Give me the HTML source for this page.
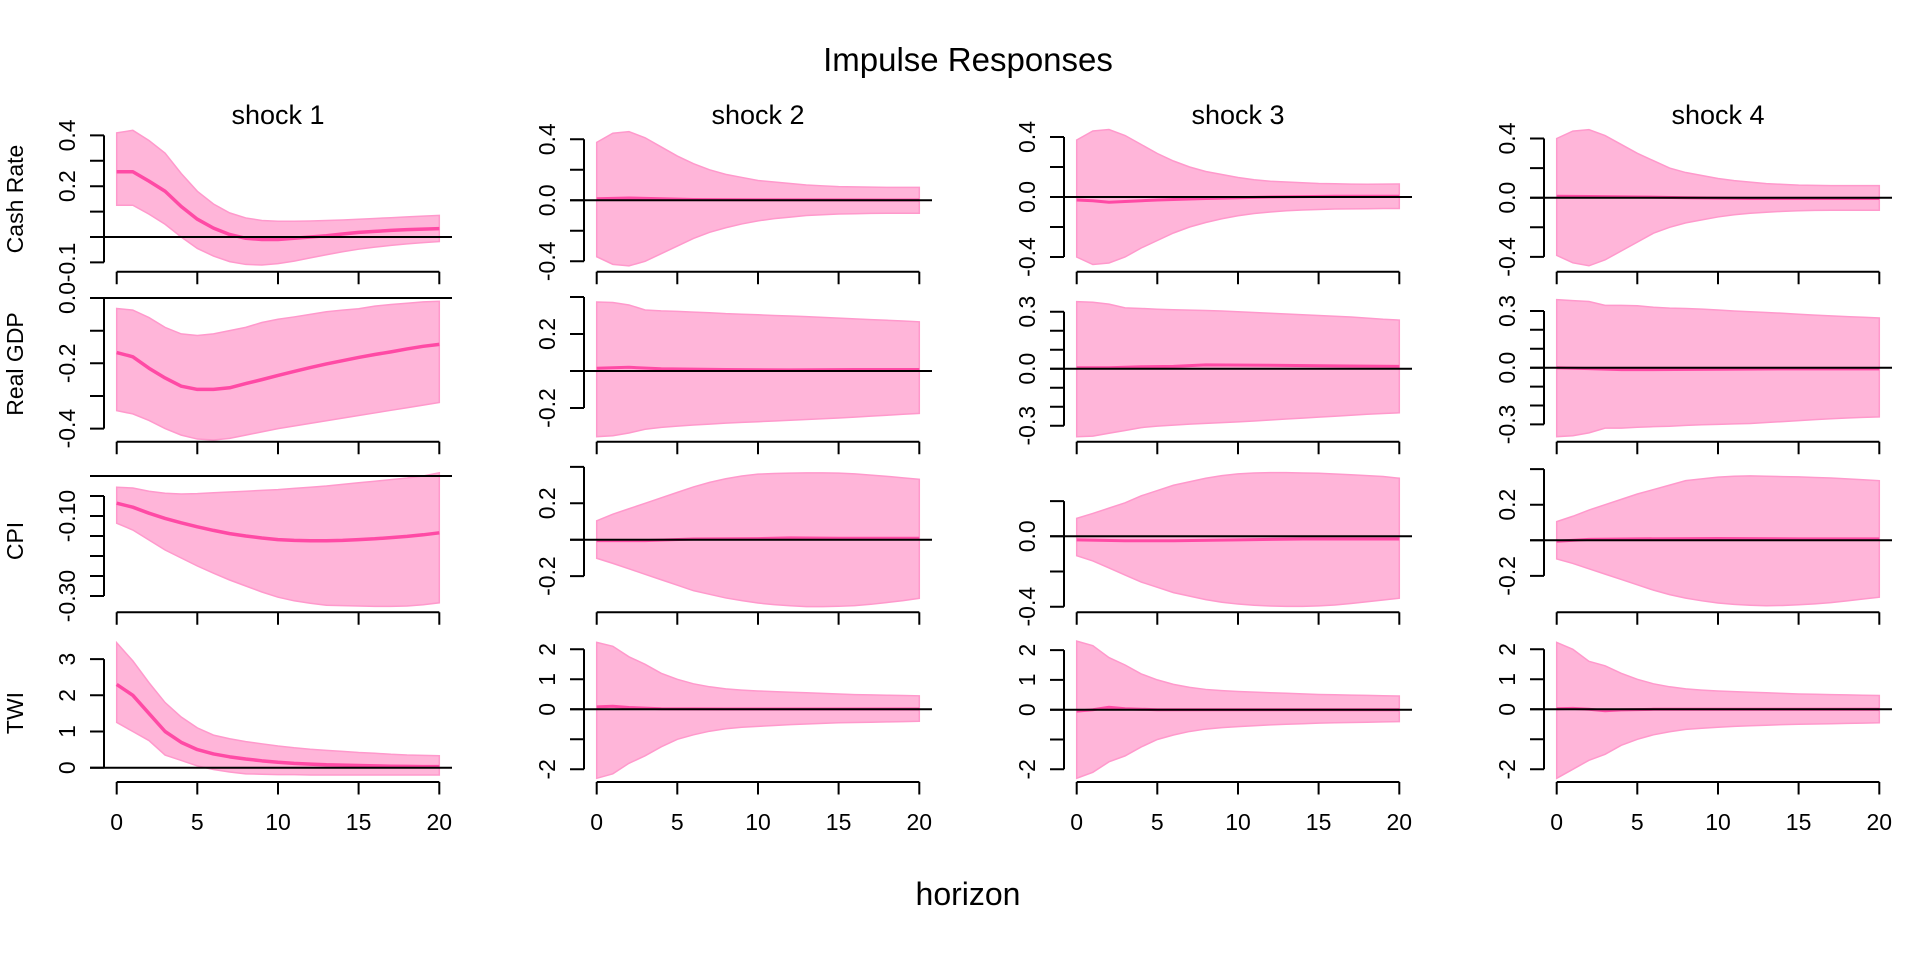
<!DOCTYPE html>
<html><head><meta charset="utf-8"><style>
html,body{margin:0;padding:0;background:#fff;}
svg{display:block;font-family:"Liberation Sans",Arial,sans-serif;}
.band{fill:#ffb5d9;stroke:#ff99cc;stroke-width:1.5;vector-effect:non-scaling-stroke;}
.med{fill:none;stroke:#ff4aa5;stroke-width:3.5;vector-effect:non-scaling-stroke;stroke-linejoin:round;}
.medt{fill:none;stroke:#ff4aa5;stroke-width:3;vector-effect:non-scaling-stroke;}
.ax{stroke:#000;stroke-width:2;fill:none;}
.zl{stroke:#000;stroke-width:2;}
.tl{font-size:23px;text-anchor:middle;dominant-baseline:central;}
.xl{font-size:23px;text-anchor:middle;}
.st{font-size:27px;text-anchor:middle;}
.vl{font-size:23px;text-anchor:middle;dominant-baseline:central;}
</style></head><body>
<svg width="1920" height="960" viewBox="0 0 1920 960" xmlns="http://www.w3.org/2000/svg">
<rect width="1920" height="960" fill="#fff"/>
<text x="968" y="71" font-size="33" text-anchor="middle">Impulse Responses</text>
<text x="968" y="905" font-size="32" text-anchor="middle">horizon</text>

<text class="st" x="278" y="124">shock 1</text>
<text class="st" x="758" y="124">shock 2</text>
<text class="st" x="1238" y="124">shock 3</text>
<text class="st" x="1718" y="124">shock 4</text>

<text class="vl" transform="translate(15,199) rotate(-90)">Cash Rate</text>
<text class="vl" transform="translate(15,364) rotate(-90)">Real GDP</text>
<text class="vl" transform="translate(15,541) rotate(-90)">CPI</text>
<text class="vl" transform="translate(15,713) rotate(-90)">TWI</text>

<g transform="translate(116.7,237) scale(16.13,-254)">
<polygon class="band" points="0,0.41 1,0.42 2,0.38 3,0.33 4,0.25 5,0.18 6,0.13 7,0.095 8,0.075 9,0.065 10,0.062 11,0.062 12,0.063 13,0.065 14,0.067 15,0.07 16,0.073 17,0.076 18,0.079 19,0.082 20,0.085 20,-0.018 19,-0.022 18,-0.027 17,-0.033 16,-0.04 15,-0.048 14,-0.058 13,-0.07 12,-0.082 11,-0.095 10,-0.105 9,-0.11 8,-0.108 7,-0.097 6,-0.075 5,-0.045 4,0 3,0.05 2,0.09 1,0.125 0,0.125"/>
<polyline class="med" points="0,0.257 1,0.257 2,0.22 3,0.18 4,0.12 5,0.07 6,0.035 7,0.01 8,-0.005 9,-0.01 10,-0.01 11,-0.005 12,0 13,0.005 14,0.012 15,0.018 16,0.022 17,0.026 18,0.029 19,0.031 20,0.033"/>
</g>
<g transform="translate(116.7,298) scale(16.13,-326.5)">
<polygon class="band" points="0,-0.032 1,-0.037 2,-0.06 3,-0.09 4,-0.11 5,-0.115 6,-0.11 7,-0.1 8,-0.09 9,-0.075 10,-0.065 11,-0.058 12,-0.05 13,-0.042 14,-0.037 15,-0.033 16,-0.025 17,-0.02 18,-0.016 19,-0.012 20,-0.01 20,-0.32 19,-0.328 18,-0.336 17,-0.344 16,-0.352 15,-0.36 14,-0.368 13,-0.376 12,-0.384 11,-0.392 10,-0.4 9,-0.41 8,-0.42 7,-0.43 6,-0.435 5,-0.432 4,-0.42 3,-0.4 2,-0.375 1,-0.355 0,-0.345"/>
<polyline class="med" points="0,-0.167 1,-0.18 2,-0.215 3,-0.245 4,-0.27 5,-0.28 6,-0.28 7,-0.275 8,-0.262 9,-0.25 10,-0.237 11,-0.225 12,-0.213 13,-0.202 14,-0.192 15,-0.182 16,-0.173 17,-0.165 18,-0.156 19,-0.148 20,-0.142"/>
</g>
<g transform="translate(116.7,476) scale(16.13,-400)">
<polygon class="band" points="0,-0.028 1,-0.03 2,-0.038 3,-0.043 4,-0.045 5,-0.044 6,-0.042 7,-0.04 8,-0.038 9,-0.036 10,-0.034 11,-0.031 12,-0.028 13,-0.025 14,-0.021 15,-0.017 16,-0.013 17,-0.009 18,-0.005 19,0 20,0.008 20,-0.317 19,-0.322 18,-0.325 17,-0.326 16,-0.326 15,-0.325 14,-0.324 13,-0.323 12,-0.318 11,-0.312 10,-0.303 9,-0.29 8,-0.275 7,-0.26 6,-0.243 5,-0.225 4,-0.205 3,-0.185 2,-0.16 1,-0.135 0,-0.118"/>
<polyline class="med" points="0,-0.068 1,-0.078 2,-0.093 3,-0.106 4,-0.117 5,-0.127 6,-0.136 7,-0.144 8,-0.15 9,-0.155 10,-0.159 11,-0.161 12,-0.162 13,-0.162 14,-0.161 15,-0.159 16,-0.157 17,-0.154 18,-0.151 19,-0.147 20,-0.142"/>
</g>
<g transform="translate(116.7,767.7) scale(16.13,-36.2)">
<polygon class="band" points="0,3.45 1,2.95 2,2.35 3,1.8 4,1.4 5,1.1 6,0.9 7,0.8 8,0.72 9,0.66 10,0.6 11,0.55 12,0.51 13,0.48 14,0.45 15,0.42 16,0.4 17,0.37 18,0.35 19,0.34 20,0.33 20,-0.2 19,-0.2 18,-0.2 17,-0.2 16,-0.2 15,-0.2 14,-0.2 13,-0.2 12,-0.2 11,-0.19 10,-0.19 9,-0.18 8,-0.17 7,-0.12 6,-0.05 5,0.05 4,0.2 3,0.35 2,0.75 1,1.0 0,1.25"/>
<polyline class="med" points="0,2.3 1,2.0 2,1.5 3,1.0 4,0.7 5,0.5 6,0.38 7,0.3 8,0.24 9,0.19 10,0.15 11,0.12 12,0.1 13,0.08 14,0.07 15,0.06 16,0.05 17,0.04 18,0.035 19,0.03 20,0.03"/>
</g>

<g transform="translate(596.7,200.3) scale(16.13,-152.5)">
<polygon class="band" points="0,0.38 1,0.44 2,0.45 3,0.41 4,0.35 5,0.29 6,0.24 7,0.2 8,0.17 9,0.15 10,0.13 11,0.12 12,0.11 13,0.1 14,0.095 15,0.09 16,0.088 17,0.086 18,0.085 19,0.085 20,0.085 20,-0.085 19,-0.085 18,-0.085 17,-0.086 16,-0.088 15,-0.09 14,-0.095 13,-0.1 12,-0.11 11,-0.12 10,-0.135 9,-0.155 8,-0.18 7,-0.21 6,-0.25 5,-0.3 4,-0.35 3,-0.4 2,-0.43 1,-0.42 0,-0.37"/>
<polyline class="medt" points="0,0.01 2,0.015 4,0.01 6,0.005 10,0.004 15,0.003 20,0.002"/>
</g>
<g transform="translate(596.7,371) scale(16.13,-185)">
<polygon class="band" points="0,0.373 1,0.37 2,0.357 3,0.33 4,0.325 5,0.322 6,0.318 7,0.315 8,0.31 9,0.307 10,0.304 11,0.3 12,0.297 13,0.294 14,0.29 15,0.286 16,0.282 17,0.278 18,0.274 19,0.27 20,0.266 20,-0.229 19,-0.234 18,-0.239 17,-0.244 16,-0.249 15,-0.254 14,-0.258 13,-0.262 12,-0.266 11,-0.27 10,-0.274 9,-0.278 8,-0.282 7,-0.287 6,-0.292 5,-0.298 4,-0.305 3,-0.315 2,-0.335 1,-0.35 0,-0.355"/>
<polyline class="medt" points="0,0.015 2,0.02 4,0.012 8,0.008 12,0.006 16,0.008 20,0.008"/>
</g>
<g transform="translate(596.7,539.7) scale(16.13,-182)">
<polygon class="band" points="0,0.104 1,0.14 2,0.17 3,0.2 4,0.23 5,0.26 6,0.29 7,0.315 8,0.335 9,0.35 10,0.36 11,0.364 12,0.366 13,0.367 14,0.367 15,0.366 16,0.362 17,0.355 18,0.348 19,0.34 20,0.332 20,-0.322 19,-0.335 18,-0.345 17,-0.355 16,-0.362 15,-0.366 14,-0.368 13,-0.368 12,-0.363 11,-0.357 10,-0.348 9,-0.335 8,-0.32 7,-0.3 6,-0.28 5,-0.25 4,-0.22 3,-0.19 2,-0.16 1,-0.13 0,-0.102"/>
<polyline class="medt" points="0,-0.005 3,-0.005 6,0.004 10,0.006 12,0.01 15,0.008 20,0.008"/>
</g>
<g transform="translate(596.7,709.3) scale(16.13,-30)">
<polygon class="band" points="0,2.23 1,2.1 2,1.75 3,1.5 4,1.2 5,1.0 6,0.85 7,0.75 8,0.68 9,0.64 10,0.61 11,0.59 12,0.57 13,0.55 14,0.53 15,0.51 16,0.49 17,0.48 18,0.47 19,0.46 20,0.45 20,-0.4 19,-0.41 18,-0.42 17,-0.43 16,-0.44 15,-0.45 14,-0.47 13,-0.49 12,-0.51 11,-0.54 10,-0.57 9,-0.6 8,-0.65 7,-0.73 6,-0.85 5,-1.0 4,-1.25 3,-1.55 2,-1.8 1,-2.15 0,-2.3"/>
<polyline class="medt" points="0,0.08 1,0.1 2,0.06 4,0.02 8,0.01 20,0.01"/>
</g>

<g transform="translate(1076.7,197) scale(16.13,-150)">
<polygon class="band" points="0,0.38 1,0.44 2,0.45 3,0.41 4,0.35 5,0.29 6,0.24 7,0.2 8,0.17 9,0.15 10,0.13 11,0.115 12,0.105 13,0.1 14,0.095 15,0.09 16,0.088 17,0.086 18,0.085 19,0.086 20,0.087 20,-0.077 19,-0.077 18,-0.078 17,-0.079 16,-0.08 15,-0.083 14,-0.087 13,-0.092 12,-0.1 11,-0.11 10,-0.125 9,-0.145 8,-0.17 7,-0.2 6,-0.24 5,-0.29 4,-0.34 3,-0.4 2,-0.44 1,-0.45 0,-0.4"/>
<polyline class="medt" points="0,-0.02 1,-0.025 2,-0.035 3,-0.03 5,-0.02 8,-0.01 12,0 16,0.005 20,0.005"/>
</g>
<g transform="translate(1076.7,368.7) scale(16.13,-190)">
<polygon class="band" points="0,0.353 1,0.35 2,0.34 3,0.32 4,0.317 5,0.313 6,0.31 7,0.308 8,0.306 9,0.304 10,0.3 11,0.296 12,0.292 13,0.288 14,0.284 15,0.28 16,0.276 17,0.272 18,0.266 19,0.26 20,0.256 20,-0.232 19,-0.236 18,-0.24 17,-0.245 16,-0.25 15,-0.255 14,-0.26 13,-0.265 12,-0.27 11,-0.275 10,-0.28 9,-0.284 8,-0.288 7,-0.292 6,-0.297 5,-0.302 4,-0.31 3,-0.325 2,-0.34 1,-0.355 0,-0.358"/>
<polyline class="medt" points="0,0.005 2,0.005 4,0.01 6,0.012 8,0.02 12,0.018 16,0.015 20,0.012"/>
</g>
<g transform="translate(1076.7,536.3) scale(16.13,-176)">
<polygon class="band" points="0,0.102 1,0.13 2,0.16 3,0.19 4,0.23 5,0.26 6,0.29 7,0.31 8,0.33 9,0.345 10,0.355 11,0.36 12,0.362 13,0.362 14,0.36 15,0.358 16,0.354 17,0.35 18,0.345 19,0.34 20,0.33 20,-0.352 19,-0.362 18,-0.372 17,-0.382 16,-0.39 15,-0.395 14,-0.398 13,-0.398 12,-0.396 11,-0.392 10,-0.385 9,-0.375 8,-0.36 7,-0.34 6,-0.32 5,-0.29 4,-0.26 3,-0.22 2,-0.18 1,-0.14 0,-0.11"/>
<polyline class="medt" points="0,-0.02 3,-0.025 6,-0.025 10,-0.02 14,-0.015 20,-0.015"/>
</g>
<g transform="translate(1076.7,709.7) scale(16.13,-29.8)">
<polygon class="band" points="0,2.3 1,2.15 2,1.75 3,1.5 4,1.2 5,1.0 6,0.85 7,0.75 8,0.68 9,0.64 10,0.61 11,0.59 12,0.57 13,0.55 14,0.53 15,0.51 16,0.5 17,0.49 18,0.48 19,0.47 20,0.46 20,-0.4 19,-0.41 18,-0.42 17,-0.43 16,-0.44 15,-0.45 14,-0.47 13,-0.49 12,-0.51 11,-0.54 10,-0.57 9,-0.6 8,-0.65 7,-0.73 6,-0.85 5,-1.0 4,-1.25 3,-1.55 2,-1.75 1,-2.1 0,-2.3"/>
<polyline class="medt" points="0,-0.05 1,0.0 2,0.08 3,0.03 5,0.0 20,0.0"/>
</g>

<g transform="translate(1556.7,197.7) scale(16.13,-148)">
<polygon class="band" points="0,0.4 1,0.45 2,0.46 3,0.42 4,0.36 5,0.3 6,0.25 7,0.2 8,0.17 9,0.15 10,0.13 11,0.115 12,0.105 13,0.095 14,0.09 15,0.085 16,0.083 17,0.082 18,0.082 19,0.082 20,0.082 20,-0.085 19,-0.085 18,-0.085 17,-0.085 16,-0.086 15,-0.088 14,-0.092 13,-0.098 12,-0.105 11,-0.115 10,-0.13 9,-0.15 8,-0.17 7,-0.2 6,-0.24 5,-0.3 4,-0.36 3,-0.42 2,-0.46 1,-0.44 0,-0.39"/>
<polyline class="medt" points="0,0.01 2,0.008 5,0.005 8,0 12,-0.005 16,-0.005 20,-0.005"/>
</g>
<g transform="translate(1556.7,367.7) scale(16.13,-189)">
<polygon class="band" points="0,0.36 1,0.355 2,0.35 3,0.33 4,0.33 5,0.328 6,0.32 7,0.315 8,0.313 9,0.31 10,0.305 11,0.3 12,0.296 13,0.292 14,0.288 15,0.283 16,0.278 17,0.274 18,0.27 19,0.267 20,0.263 20,-0.26 19,-0.263 18,-0.266 17,-0.27 16,-0.275 15,-0.28 14,-0.285 13,-0.29 12,-0.295 11,-0.297 10,-0.3 9,-0.302 8,-0.305 7,-0.31 6,-0.312 5,-0.315 4,-0.32 3,-0.32 2,-0.345 1,-0.36 0,-0.365"/>
<polyline class="medt" points="0,0.0 2,-0.005 4,-0.01 6,-0.01 10,-0.008 14,-0.006 20,-0.006"/>
</g>
<g transform="translate(1556.7,540.3) scale(16.13,-178)">
<polygon class="band" points="0,0.105 1,0.135 2,0.17 3,0.2 4,0.23 5,0.26 6,0.285 7,0.31 8,0.335 9,0.345 10,0.355 11,0.36 12,0.362 13,0.36 14,0.358 15,0.356 16,0.353 17,0.35 18,0.345 19,0.34 20,0.335 20,-0.32 19,-0.33 18,-0.34 17,-0.35 16,-0.357 15,-0.362 14,-0.366 13,-0.368 12,-0.365 11,-0.36 10,-0.352 9,-0.34 8,-0.325 7,-0.305 6,-0.28 5,-0.25 4,-0.22 3,-0.19 2,-0.16 1,-0.13 0,-0.105"/>
<polyline class="medt" points="0,-0.005 2,0.005 5,0.008 10,0.01 15,0.008 20,0.008"/>
</g>
<g transform="translate(1556.7,709.3) scale(16.13,-30)">
<polygon class="band" points="0,2.23 1,2.0 2,1.6 3,1.45 4,1.2 5,1.0 6,0.85 7,0.75 8,0.68 9,0.64 10,0.61 11,0.59 12,0.57 13,0.55 14,0.53 15,0.51 16,0.5 17,0.49 18,0.48 19,0.47 20,0.46 20,-0.45 19,-0.46 18,-0.47 17,-0.48 16,-0.49 15,-0.5 14,-0.51 13,-0.53 12,-0.55 11,-0.57 10,-0.6 9,-0.63 8,-0.67 7,-0.75 6,-0.85 5,-1.0 4,-1.2 3,-1.5 2,-1.7 1,-2.0 0,-2.3"/>
<polyline class="medt" points="0,0.02 1,0.03 2,0.0 3,-0.05 4,-0.02 6,0.0 20,0.0"/>
</g>

<g class="zl">
<line x1="90" y1="237" x2="452" y2="237"/>
<line x1="90" y1="298" x2="452" y2="298"/>
<line x1="90" y1="476" x2="452" y2="476"/>
<line x1="90" y1="767.7" x2="452" y2="767.7"/>
<line x1="570" y1="200.3" x2="932" y2="200.3"/>
<line x1="570" y1="371" x2="932" y2="371"/>
<line x1="570" y1="539.7" x2="932" y2="539.7"/>
<line x1="570" y1="709.3" x2="932" y2="709.3"/>
<line x1="1050" y1="197" x2="1412" y2="197"/>
<line x1="1050" y1="368.7" x2="1412" y2="368.7"/>
<line x1="1050" y1="536.3" x2="1412" y2="536.3"/>
<line x1="1050" y1="709.7" x2="1412" y2="709.7"/>
<line x1="1530" y1="197.7" x2="1892" y2="197.7"/>
<line x1="1530" y1="367.7" x2="1892" y2="367.7"/>
<line x1="1530" y1="540.3" x2="1892" y2="540.3"/>
<line x1="1530" y1="709.3" x2="1892" y2="709.3"/>
</g>

<g class="ax">
<path d="M116.7,271.7H439.3M116.7,271.7v12.5M197.3,271.7v12.5M278,271.7v12.5M358.6,271.7v12.5M439.3,271.7v12.5"/>
<path d="M116.7,441.7H439.3M116.7,441.7v12.5M197.3,441.7v12.5M278,441.7v12.5M358.6,441.7v12.5M439.3,441.7v12.5"/>
<path d="M116.7,612.3H439.3M116.7,612.3v12.5M197.3,612.3v12.5M278,612.3v12.5M358.6,612.3v12.5M439.3,612.3v12.5"/>
<path d="M116.7,782H439.3M116.7,782v12.5M197.3,782v12.5M278,782v12.5M358.6,782v12.5M439.3,782v12.5"/>
<path d="M596.7,271.7H919.3M596.7,271.7v12.5M677.3,271.7v12.5M758,271.7v12.5M838.6,271.7v12.5M919.3,271.7v12.5"/>
<path d="M596.7,441.7H919.3M596.7,441.7v12.5M677.3,441.7v12.5M758,441.7v12.5M838.6,441.7v12.5M919.3,441.7v12.5"/>
<path d="M596.7,612.3H919.3M596.7,612.3v12.5M677.3,612.3v12.5M758,612.3v12.5M838.6,612.3v12.5M919.3,612.3v12.5"/>
<path d="M596.7,782H919.3M596.7,782v12.5M677.3,782v12.5M758,782v12.5M838.6,782v12.5M919.3,782v12.5"/>
<path d="M1076.7,271.7H1399.3M1076.7,271.7v12.5M1157.3,271.7v12.5M1238,271.7v12.5M1318.6,271.7v12.5M1399.3,271.7v12.5"/>
<path d="M1076.7,441.7H1399.3M1076.7,441.7v12.5M1157.3,441.7v12.5M1238,441.7v12.5M1318.6,441.7v12.5M1399.3,441.7v12.5"/>
<path d="M1076.7,612.3H1399.3M1076.7,612.3v12.5M1157.3,612.3v12.5M1238,612.3v12.5M1318.6,612.3v12.5M1399.3,612.3v12.5"/>
<path d="M1076.7,782H1399.3M1076.7,782v12.5M1157.3,782v12.5M1238,782v12.5M1318.6,782v12.5M1399.3,782v12.5"/>
<path d="M1556.7,271.7H1879.3M1556.7,271.7v12.5M1637.3,271.7v12.5M1718,271.7v12.5M1798.6,271.7v12.5M1879.3,271.7v12.5"/>
<path d="M1556.7,441.7H1879.3M1556.7,441.7v12.5M1637.3,441.7v12.5M1718,441.7v12.5M1798.6,441.7v12.5M1879.3,441.7v12.5"/>
<path d="M1556.7,612.3H1879.3M1556.7,612.3v12.5M1637.3,612.3v12.5M1718,612.3v12.5M1798.6,612.3v12.5M1879.3,612.3v12.5"/>
<path d="M1556.7,782H1879.3M1556.7,782v12.5M1637.3,782v12.5M1718,782v12.5M1798.6,782v12.5M1879.3,782v12.5"/>
</g>
<g class="xl">
<text x="116.7" y="830">0</text><text x="197.3" y="830">5</text><text x="278" y="830">10</text><text x="358.6" y="830">15</text><text x="439.3" y="830">20</text>
<text x="596.7" y="830">0</text><text x="677.3" y="830">5</text><text x="758" y="830">10</text><text x="838.6" y="830">15</text><text x="919.3" y="830">20</text>
<text x="1076.7" y="830">0</text><text x="1157.3" y="830">5</text><text x="1238" y="830">10</text><text x="1318.6" y="830">15</text><text x="1399.3" y="830">20</text>
<text x="1556.7" y="830">0</text><text x="1637.3" y="830">5</text><text x="1718" y="830">10</text><text x="1798.6" y="830">15</text><text x="1879.3" y="830">20</text>
</g>

<g class="ax">
<path d="M104,135.4V262.4M104,135.4h-14M104,160.8h-14M104,186.2h-14M104,211.6h-14M104,237h-14M104,262.4h-14"/>
<path d="M104,298V428.6M104,298h-14M104,330.7h-14M104,363.3h-14M104,396h-14M104,428.6h-14"/>
<path d="M104,496V596M104,496h-14M104,516h-14M104,536h-14M104,556h-14M104,576h-14M104,596h-14"/>
<path d="M104,659.1V767.7M104,659.1h-14M104,695.3h-14M104,731.5h-14M104,767.7h-14"/>
<path d="M584,139.3V261.3M584,139.3h-14M584,169.8h-14M584,200.3h-14M584,230.8h-14M584,261.3h-14"/>
<path d="M584,297V408M584,297h-14M584,334h-14M584,371h-14M584,408h-14"/>
<path d="M584,466.9V576.1M584,466.9h-14M584,503.3h-14M584,539.7h-14M584,576.1h-14"/>
<path d="M584,649.3V769.3M584,649.3h-14M584,679.3h-14M584,709.3h-14M584,739.3h-14M584,769.3h-14"/>
<path d="M1064,137V257M1064,137h-14M1064,167h-14M1064,197h-14M1064,227h-14M1064,257h-14"/>
<path d="M1064,311.7V425.7M1064,311.7h-14M1064,330.7h-14M1064,349.7h-14M1064,368.7h-14M1064,387.7h-14M1064,406.7h-14M1064,425.7h-14"/>
<path d="M1064,501.1V606.7M1064,501.1h-14M1064,536.3h-14M1064,571.5h-14M1064,606.7h-14"/>
<path d="M1064,650.1V769.3M1064,650.1h-14M1064,679.9h-14M1064,709.7h-14M1064,739.5h-14M1064,769.3h-14"/>
<path d="M1544,138.5V256.9M1544,138.5h-14M1544,168.1h-14M1544,197.7h-14M1544,227.3h-14M1544,256.9h-14"/>
<path d="M1544,311V424.4M1544,311h-14M1544,329.8h-14M1544,348.8h-14M1544,367.7h-14M1544,386.6h-14M1544,405.5h-14M1544,424.4h-14"/>
<path d="M1544,469.1V575.9M1544,469.1h-14M1544,504.7h-14M1544,540.3h-14M1544,575.9h-14"/>
<path d="M1544,649.3V769.3M1544,649.3h-14M1544,679.3h-14M1544,709.3h-14M1544,739.3h-14M1544,769.3h-14"/>
</g>

<g class="tl">
<text transform="translate(67,135.4) rotate(-90)">0.4</text>
<text transform="translate(67,186.2) rotate(-90)">0.2</text>
<text transform="translate(67,262.4) rotate(-90)">-0.1</text>
<text transform="translate(67,298) rotate(-90)">0.0</text>
<text transform="translate(67,363.3) rotate(-90)">-0.2</text>
<text transform="translate(67,428.6) rotate(-90)">-0.4</text>
<text transform="translate(67,516) rotate(-90)">-0.10</text>
<text transform="translate(67,596) rotate(-90)">-0.30</text>
<text transform="translate(67,767.7) rotate(-90)">0</text>
<text transform="translate(67,731.5) rotate(-90)">1</text>
<text transform="translate(67,695.3) rotate(-90)">2</text>
<text transform="translate(67,659.1) rotate(-90)">3</text>

<text transform="translate(547,139.3) rotate(-90)">0.4</text>
<text transform="translate(547,200.3) rotate(-90)">0.0</text>
<text transform="translate(547,261.3) rotate(-90)">-0.4</text>
<text transform="translate(547,334) rotate(-90)">0.2</text>
<text transform="translate(547,408) rotate(-90)">-0.2</text>
<text transform="translate(547,503.3) rotate(-90)">0.2</text>
<text transform="translate(547,576.1) rotate(-90)">-0.2</text>
<text transform="translate(547,649.3) rotate(-90)">2</text>
<text transform="translate(547,679.3) rotate(-90)">1</text>
<text transform="translate(547,709.3) rotate(-90)">0</text>
<text transform="translate(547,769.3) rotate(-90)">-2</text>

<text transform="translate(1027,137) rotate(-90)">0.4</text>
<text transform="translate(1027,197) rotate(-90)">0.0</text>
<text transform="translate(1027,257) rotate(-90)">-0.4</text>
<text transform="translate(1027,311.7) rotate(-90)">0.3</text>
<text transform="translate(1027,368.7) rotate(-90)">0.0</text>
<text transform="translate(1027,425.7) rotate(-90)">-0.3</text>
<text transform="translate(1027,536.3) rotate(-90)">0.0</text>
<text transform="translate(1027,606.7) rotate(-90)">-0.4</text>
<text transform="translate(1027,650.1) rotate(-90)">2</text>
<text transform="translate(1027,679.9) rotate(-90)">1</text>
<text transform="translate(1027,709.7) rotate(-90)">0</text>
<text transform="translate(1027,769.3) rotate(-90)">-2</text>

<text transform="translate(1507,138.5) rotate(-90)">0.4</text>
<text transform="translate(1507,197.7) rotate(-90)">0.0</text>
<text transform="translate(1507,256.9) rotate(-90)">-0.4</text>
<text transform="translate(1507,311) rotate(-90)">0.3</text>
<text transform="translate(1507,367.7) rotate(-90)">0.0</text>
<text transform="translate(1507,424.4) rotate(-90)">-0.3</text>
<text transform="translate(1507,504.7) rotate(-90)">0.2</text>
<text transform="translate(1507,575.9) rotate(-90)">-0.2</text>
<text transform="translate(1507,649.3) rotate(-90)">2</text>
<text transform="translate(1507,679.3) rotate(-90)">1</text>
<text transform="translate(1507,709.3) rotate(-90)">0</text>
<text transform="translate(1507,769.3) rotate(-90)">-2</text>
</g>
</svg>
</body></html>
